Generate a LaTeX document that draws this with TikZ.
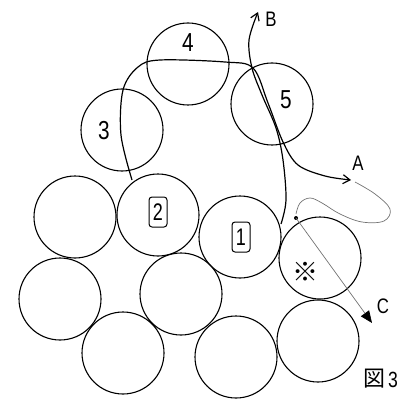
\documentclass[tikz,border=0pt]{standalone}
\usepackage{fontspec}
\setmainfont{Liberation Sans}
\newfontfamily\cjk{Noto Sans CJK JP}
\usetikzlibrary{arrows.meta}
\tikzset{
  ball/.style={circle,draw,line width=1.1pt,minimum size=82pt,inner sep=0pt},
  num/.style={font=\fontsize{26}{26}\selectfont,xscale=0.8,inner sep=0pt},
  boxnum/.style={font=\fontsize{24}{24}\selectfont,xscale=0.75,draw,line width=1pt,rounded corners=3pt,inner sep=2pt,minimum height=30pt,minimum width=24pt},
  lbl/.style={font=\fontsize{21}{21}\selectfont,xscale=0.8,inner sep=0pt},
  path/.style={line width=1.2pt},
  thin/.style={line width=0.7pt,black!55}
}
\begin{document}
\begin{tikzpicture}[x=1pt,y=-1pt]
\useasboundingbox (0,0) rectangle (406,398);
% circles
\node[ball] (c4) at (188,64) {};
\node[ball] (c5) at (272,104) {};
\node[ball] (c3) at (122,130) {};
\node[ball] (cl) at (75,217) {};
\node[ball] (c2) at (158,215) {};
\node[ball] (c1) at (240,237) {};
\node[ball] (cx) at (320,258) {};
\node[ball] (cm1) at (60,299) {};
\node[ball] (cm2) at (181,294) {};
\node[ball] (cb1) at (123,353) {};
\node[ball] (cb2) at (236,357) {};
\node[ball] (cb3) at (318,341) {};
% labels
\node[num] (n4) at (188,43) {4};
\node[num] (n5) at (286,100) {5};
\node[num] (n3) at (104,131) {3};
\node[boxnum] (n2) at (158,212) {2};
\node[boxnum] (n1) at (241,237) {1};
\node[font=\cjk\fontsize{26}{26}\selectfont,inner sep=0pt] (nx) at (305,272) {※};
\node[lbl] (la) at (358,163) {A};
\node[lbl] (lb) at (271,19) {B};
\node[lbl] (lc) at (383,306) {C};
\node[font=\cjk\fontsize{22}{22}\selectfont,inner sep=0pt] (fig) at (374,379) {図};
\node[num,font=\fontsize{22}{22}\selectfont] (fig3) at (393,380) {3};
% path A
\coordinate (atip) at (351,180);
\draw[path,-{Straight Barb[length=7pt,width=9pt]}] plot[smooth,tension=0.55] coordinates
 {(132,180) (121,135) (123,90) (138,67) (160,60) (225,62) (253,68) (268,103) (283,142) (298,165) (325,176) (atip)};
% path B
\coordinate (btip) at (258,12);
\draw[path,-{Straight Barb[length=7pt,width=9pt]}] plot[smooth,tension=0.55] coordinates
 {(281,224) (286,200) (283,160) (276,128) (262,95) (252,68) (249,40) (btip)};
% thin path
\coordinate (dot) at (296,218);
\draw[thin] plot[smooth,tension=0.6] coordinates
 {(355,182) (375,194) (390,209) (384,221) (362,222) (340,214) (322,203) (310,198) (300,203) (296,214)};
\fill (dot) circle (2pt);
\coordinate (ctip) at (372,323);
\draw[thin,-{Triangle[length=12pt,width=10pt,black]}] (dot) -- (ctip);
\end{tikzpicture}
\end{document}
